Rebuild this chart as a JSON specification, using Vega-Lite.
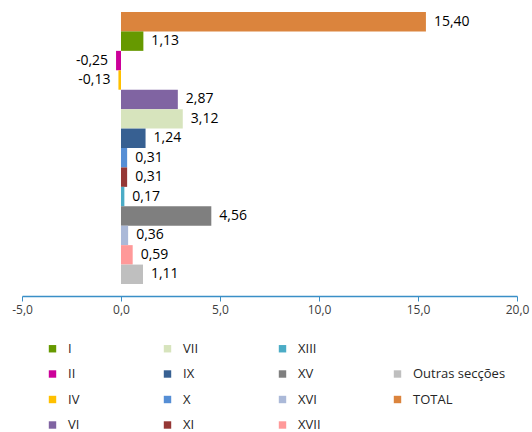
{
  "$schema": "https://vega.github.io/schema/vega-lite/v6.json",
  "autosize": {"type": "none"},
  "padding": {"left": 22, "top": 12, "right": 15, "bottom": 148},
  "width": 495,
  "height": 272,
  "config": {
    "locale": {"number": {"decimal": ",", "thousands": ".", "grouping": [3], "currency": ["", "€"], "minus": "-"}},
    "view": {"stroke": null},
    "font": "Open Sans"
  },
  "data": {
    "values": [
      {"cat": "TOTAL", "v": 15.40},
      {"cat": "I", "v": 1.13},
      {"cat": "II", "v": -0.25},
      {"cat": "IV", "v": -0.13},
      {"cat": "VI", "v": 2.87},
      {"cat": "VII", "v": 3.12},
      {"cat": "IX", "v": 1.24},
      {"cat": "X", "v": 0.31},
      {"cat": "XI", "v": 0.31},
      {"cat": "XIII", "v": 0.17},
      {"cat": "XV", "v": 4.56},
      {"cat": "XVI", "v": 0.36},
      {"cat": "XVII", "v": 0.59},
      {"cat": "Outras secções", "v": 1.11}
    ]
  },
  "encoding": {
    "y": {
      "field": "cat",
      "type": "nominal",
      "sort": ["TOTAL", "I", "II", "IV", "VI", "VII", "IX", "X", "XI", "XIII", "XV", "XVI", "XVII", "Outras secções"],
      "axis": null,
      "scale": {"paddingInner": 0, "paddingOuter": 0}
    },
    "x": {
      "field": "v",
      "type": "quantitative",
      "scale": {"domain": [-5, 20], "nice": false},
      "axis": {
        "values": [-5, 0, 5, 10, 15, 20],
        "format": ".1f",
        "title": null,
        "grid": false,
        "offset": 12,
        "domainColor": "#3A8FC7",
        "domainWidth": 1.3,
        "tickColor": "#3A8FC7",
        "tickSize": 5,
        "labelFontSize": 12,
        "labelColor": "#404040",
        "labelPadding": 3,
        "labelFlush": false
      }
    }
  },
  "layer": [
    {
      "mark": {"type": "bar"},
      "encoding": {
        "color": {
          "field": "cat",
          "type": "nominal",
          "scale": {
            "domain": ["I", "II", "IV", "VI", "VII", "IX", "X", "XI", "XIII", "XV", "XVI", "XVII", " ", "Outras secções", "TOTAL"],
            "range": ["#669900", "#CC0099", "#FFC000", "#8064A2", "#D7E4BD", "#376092", "#558ED5", "#953735", "#4BACC6", "#7F7F7F", "#ABB9D8", "#FF9999", "#FFFFFF", "#BFBFBF", "#DB843D"]
          },
          "legend": {
            "title": null,
            "orient": "none",
            "legendX": 24,
            "legendY": 330,
            "columns": 4,
            "gridAlign": "all",
            "columnPadding": 0,
            "rowPadding": 11.5,
            "padding": 0,
            "values": ["I", "II", "IV", "VI", "VII", "IX", "X", "XI", "XIII", "XV", "XVI", "XVII", " ", "Outras secções", "TOTAL"],
            "symbolType": "square",
            "symbolSize": 55,
            "symbolStrokeWidth": 0,
            "labelFontSize": 13,
            "labelColor": "#262626",
            "labelOffset": 9
          }
        }
      }
    },
    {
      "transform": [{"filter": "datum.v >= 0"}],
      "mark": {"type": "text", "align": "left", "dx": 8, "fontSize": 14, "color": "#000000"},
      "encoding": {"text": {"field": "v", "type": "quantitative", "format": ".2f"}}
    },
    {
      "transform": [{"filter": "datum.v < 0"}],
      "mark": {"type": "text", "align": "right", "dx": -8, "fontSize": 14, "color": "#000000"},
      "encoding": {"text": {"field": "v", "type": "quantitative", "format": ".2f"}}
    }
  ]
}
